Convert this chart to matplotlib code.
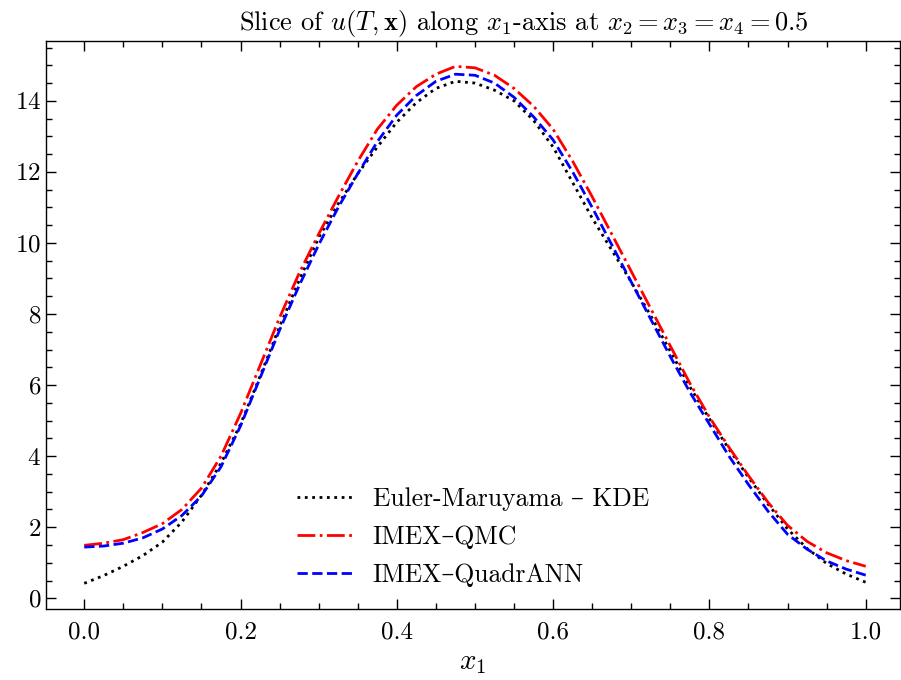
import numpy as np
import matplotlib
matplotlib.use("Agg")
import matplotlib.pyplot as plt

# Computer-Modern look without LaTeX
plt.rcParams['font.family'] = 'serif'
plt.rcParams['font.serif'] = ['cmr10', 'DejaVu Serif']
plt.rcParams['mathtext.fontset'] = 'cm'
plt.rcParams['axes.formatter.use_mathtext'] = True
plt.rcParams['axes.unicode_minus'] = False

# values, x1 step 0.025
x1 = np.linspace(0.0, 1.0, 41)

em_kde = [0.42, 0.64, 0.90, 1.20, 1.58, 2.15, 2.90, 3.80, 4.90, 6.25,
          7.65, 8.95, 10.15, 11.10, 11.95, 12.70, 13.40, 13.95, 14.35, 14.55,
          14.50, 14.30, 14.00, 13.45, 12.70, 11.70, 10.70, 9.80, 8.90, 7.95,
          6.95, 5.95, 5.05, 4.20, 3.40, 2.65, 1.95, 1.40, 0.98, 0.68,
          0.45]

imex_qmc = [1.49, 1.55, 1.65, 1.85, 2.10, 2.50, 3.10, 4.00, 5.20, 6.55,
            7.90, 9.15, 10.25, 11.30, 12.30, 13.20, 13.88, 14.40, 14.75, 14.97,
            14.93, 14.72, 14.35, 13.85, 13.20, 12.30, 11.30, 10.25, 9.20, 8.15,
            7.10, 6.05, 5.10, 4.25, 3.45, 2.70, 2.05, 1.60, 1.28, 1.06,
            0.90]

imex_quadrann = [1.44, 1.47, 1.55, 1.70, 1.95, 2.33, 2.88, 3.70, 4.85, 6.20,
                 7.55, 8.80, 9.95, 11.00, 11.95, 12.85, 13.60, 14.15, 14.55, 14.75,
                 14.72, 14.50, 14.10, 13.55, 12.90, 12.00, 11.00, 9.95, 8.90, 7.85,
                 6.80, 5.80, 4.90, 4.00, 3.20, 2.45, 1.80, 1.38, 1.05, 0.82,
                 0.65]

labels = ['Euler-Maruyama \u2013 KDE', 'IMEX\u2013QMC', 'IMEX\u2013QuadrANN']

fig = plt.figure(figsize=(9.01, 6.8), dpi=100)
ax = fig.add_axes([0.051, 0.104, 0.948, 0.836])

ax.plot(x1, em_kde, color='black', linestyle=':', linewidth=2.0, label=labels[0])
ax.plot(x1, imex_qmc, color='red', linestyle='-.', linewidth=2.0, label=labels[1])
ax.plot(x1, imex_quadrann, color='blue', linestyle='--', linewidth=2.0, label=labels[2])

ax.set_xlim(-0.049, 1.044)
ax.set_ylim(-0.31, 15.69)
ax.set_xticks([0.0, 0.2, 0.4, 0.6, 0.8, 1.0])
ax.set_yticks([0, 2, 4, 6, 8, 10, 12, 14])
ax.set_xticklabels(['0.0', '0.2', '0.4', '0.6', '0.8', '1.0'])
ax.set_xticks(np.arange(0.0, 1.01, 0.05), minor=True)
ax.set_yticks(np.arange(0.0, 15.6, 0.5), minor=True)
ax.tick_params(which='both', direction='in', top=True, right=True, labelsize=18, width=1.0)
ax.tick_params(which='major', length=7)
ax.tick_params(which='minor', length=4)
ax.tick_params(axis='x', pad=9)
for s in ax.spines.values():
    s.set_linewidth(1.0)

ax.set_xlabel(r'$x_1$', fontsize=21, labelpad=4)
# title sits a bit right of the axes centre in the reference
ax.set_title(r'Slice of $u(T,\mathbf{x})$ along $x_1$-axis at $x_2 = x_3 = x_4 = 0.5$',
             fontsize=19, pad=8, x=0.56)

leg = ax.legend(loc='center', bbox_to_anchor=(0.5, 0.127), frameon=False,
                fontsize=18.5, handlelength=2.15, handletextpad=0.8, labelspacing=0.55)
for t in leg.get_texts():
    t.set_fontfamily(['cmr10', 'DejaVu Serif'])

fig.savefig('out.png', dpi=100)
